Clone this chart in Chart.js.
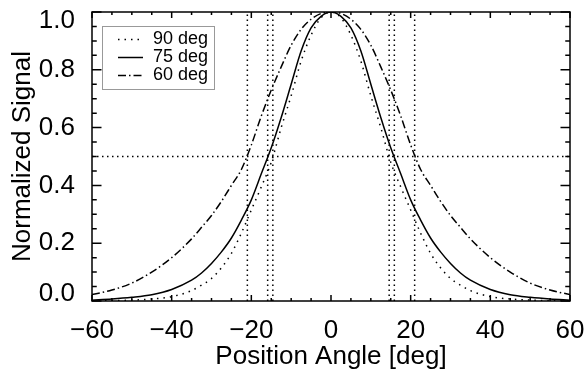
<!DOCTYPE html>
<html><head><meta charset="utf-8">
<script src="https://cdn.jsdelivr.net/npm/chart.js@4/dist/chart.umd.min.js"></script>
<style>html,body{margin:0;padding:0;background:#fff}#wrap{width:585px;height:373px}</style>
</head><body><div id="wrap"><canvas id="c" width="585" height="373"></canvas></div>
<script>
// ---- data ----
const angles   = [-60,-55,-50,-45,-40,-35,-32.5,-30,-27.5,-25,-22.5,-20,-17.5,-15,-12.5,-10,-7.5,-5,-2.5,0,
                  2.5,5,7.5,10,12.5,15,17.5,20,22.5,25,27.5,30,32.5,35,40,45,50,55,60];
const signal90 = [0.000,0.001,0.003,0.007,0.015,0.036,0.055,0.078,0.115,0.165,0.235,0.315,0.395,0.480,0.600,0.710,0.830,0.920,0.980,1.000,
                  0.980,0.920,0.830,0.710,0.600,0.480,0.395,0.315,0.235,0.165,0.115,0.078,0.055,0.036,0.015,0.007,0.003,0.001,0.000];
const signal75 = [0.003,0.007,0.013,0.022,0.040,0.072,0.097,0.130,0.170,0.218,0.280,0.350,0.440,0.530,0.635,0.750,0.865,0.945,0.985,1.000,
                  0.985,0.945,0.865,0.750,0.635,0.530,0.440,0.350,0.280,0.218,0.170,0.130,0.097,0.072,0.040,0.022,0.013,0.007,0.003];
const signal60 = [0.022,0.038,0.062,0.100,0.150,0.215,0.255,0.296,0.345,0.400,0.455,0.540,0.640,0.730,0.810,0.885,0.940,0.975,0.995,1.000,
                  0.995,0.975,0.940,0.885,0.810,0.730,0.640,0.540,0.455,0.400,0.345,0.296,0.255,0.215,0.150,0.100,0.062,0.038,0.022];
const seriesLabels = ['90 deg', '75 deg', '60 deg'];
const widthMarkers = [-21.0, -15.9, -14.6, 14.6, 15.9, 21.0];
const halfLevel = 0.5;
const xTicks = [-60, -40, -20, 0, 20, 40, 60];
const yTicks = [0, 0.2, 0.4, 0.6, 0.8, 1.0];
const xRange = [-60, 60];
const yRange = [0, 1];
const xTitle = 'Position Angle [deg]';
const yTitle = 'Normalized Signal';

// ---- styles ----
const FONT = "'Liberation Sans', Arial, sans-serif";
const dotCurve = [1.5, 5];
const dotRef = [1.5, 3.5];
const dashDot = [8, 3, 1.5, 3];

const toPts = arr => angles.map((a, i) => ({x: a, y: arr[i]}));

const refSets = widthMarkers.map(w => ({
  data: [{x: w, y: yRange[0]}, {x: w, y: yRange[1]}],
  borderColor: '#000', borderWidth: 1.5, borderDash: dotRef, pointRadius: 0, fill: false
}));
refSets.push({
  data: [{x: xRange[0], y: halfLevel}, {x: xRange[1], y: halfLevel}],
  borderColor: '#000', borderWidth: 1.5, borderDash: dotRef, pointRadius: 0, fill: false
});

const curveSets = [
  {label: seriesLabels[0], data: toPts(signal90), borderDash: dotCurve},
  {label: seriesLabels[1], data: toPts(signal75), borderDash: []},
  {label: seriesLabels[2], data: toPts(signal60), borderDash: dashDot}
].map(d => Object.assign({
  borderColor: '#000', borderWidth: 1.5, pointRadius: 0, fill: false,
  cubicInterpolationMode: 'monotone'
}, d));

const framePlugin = {
  id: 'frame',
  afterDatasetsDraw(chart) {
    const {ctx, chartArea: a, scales: {x, y}} = chart;
    ctx.save();
    ctx.strokeStyle = '#000';
    ctx.lineWidth = 1.5;
    ctx.setLineDash([]);
    ctx.strokeRect(a.left, a.top, a.right - a.left, a.bottom - a.top);
    ctx.beginPath();
    for (let i = 0; i <= 24; i++) {
      const v = xRange[0] + i * 5;
      const px = x.getPixelForValue(v);
      const len = (i % 4 === 0) ? 6 : 3;
      ctx.moveTo(px, a.bottom); ctx.lineTo(px, a.bottom - len);
      ctx.moveTo(px, a.top); ctx.lineTo(px, a.top + len);
    }
    for (let i = 0; i <= 20; i++) {
      const v = yRange[0] + i * 0.05;
      const py = y.getPixelForValue(v);
      const len = (i % 4 === 0) ? 9.5 : 4.75;
      ctx.moveTo(a.left, py); ctx.lineTo(a.left + len, py);
      ctx.moveTo(a.right, py); ctx.lineTo(a.right - len, py);
    }
    ctx.stroke();

    // legend box
    const bx = a.left + 10, by = a.top + 14, bw = 112, bh = 63;
    ctx.fillStyle = '#fff';
    ctx.fillRect(bx, by, bw, bh);
    ctx.strokeStyle = '#999';
    ctx.lineWidth = 1;
    ctx.strokeRect(bx + 0.5, by + 0.5, bw, bh);
    ctx.font = "18px " + FONT;
    ctx.textBaseline = 'middle';
    ctx.textAlign = 'left';
    ctx.fillStyle = '#000';
    curveSets.forEach((ds, i) => {
      const ry = by + 13.5 + i * 18;
      ctx.beginPath();
      ctx.strokeStyle = '#000';
      ctx.lineWidth = 1.5;
      ctx.setLineDash(ds.borderDash);
      ctx.moveTo(bx + 16, ry); ctx.lineTo(bx + 41, ry);
      ctx.stroke();
      ctx.setLineDash([]);
      ctx.fillText(ds.label, bx + 51, ry);
    });
    ctx.restore();
  }
};

new Chart(document.getElementById('c'), {
  type: 'line',
  data: {datasets: refSets.concat(curveSets)},
  options: {
    responsive: false,
    animation: false,
    layout: {padding: {left: 0, right: 15, top: 12, bottom: 0}},
    plugins: {legend: {display: false}, tooltip: {enabled: false}},
    scales: {
      x: {
        type: 'linear', min: xRange[0], max: xRange[1],
        afterBuildTicks: s => { s.ticks = xTicks.map(v => ({value: v})); },
        afterFit: s => { s.height = 72; s.paddingLeft = 0; s.paddingRight = 0; },
        grid: {display: false}, border: {display: false},
        ticks: {
          color: '#000', padding: 8.5, maxRotation: 0, autoSkip: false,
          font: {family: FONT, size: 26, lineHeight: 1},
          callback: v => v < 0 ? '\u2212' + Math.abs(v) : String(v)
        },
        title: {display: true, text: xTitle, color: '#000',
                font: {family: FONT, size: 26, lineHeight: 1}, padding: {top: 0, bottom: 3}}
      },
      y: {
        type: 'linear', min: yRange[0], max: yRange[1],
        afterBuildTicks: s => { s.ticks = yTicks.map(v => ({value: v})); },
        afterFit: s => { s.width = 92; s.paddingTop = 0; s.paddingBottom = 0; },
        grid: {display: false}, border: {display: false},
        ticks: {
          color: '#000', padding: 9, autoSkip: false,
          font: (c) => {
            const v = c.tick ? c.tick.value : null;
            let lh = 1;
            if (v === yRange[1]) lh = 0.66;
            else if (v === yRange[0]) lh = 0.52;
            return {family: FONT, size: 26, lineHeight: lh};
          },
          callback: v => {
            const s = Number(v).toFixed(1);
            if (v === yRange[1]) return ['', s];
            if (v === yRange[0]) return [s, ''];
            return s;
          }
        },
        title: {display: true, text: yTitle, color: '#000',
                font: {family: FONT, size: 26, lineHeight: 1}, padding: {top: 10, bottom: 0}}
      }
    }
  },
  plugins: [framePlugin]
});
</script>
</body></html>
